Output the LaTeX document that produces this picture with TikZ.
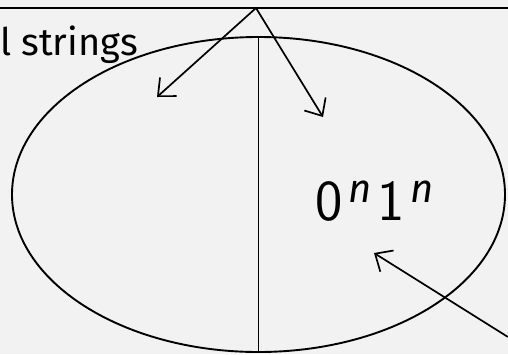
\documentclass[tikz,border=0pt]{standalone}
\usepackage{fontspec}
\setmainfont{Fira Sans}
\usetikzlibrary{positioning, shapes.geometric, arrows.meta}

\newcommand{\digitfont}{\sffamily\fontsize{58}{60}\selectfont}
\newcommand{\supn}{\hspace{6pt}\raisebox{18pt}{\fontsize{40}{40}\selectfont\itshape n}\hspace{6pt}}

\begin{document}
\begin{tikzpicture}[x=1pt, y=-1pt,
  set/.style={
    ellipse, draw=black, line width=1.9pt,
    minimum width=493pt, minimum height=315pt, inner sep=0pt
  },
  arrow/.style={
    -{Straight Barb[length=14pt,width=25pt]}, line width=1.7pt, draw=black
  },
  label/.style={
    inner sep=0pt, font=\fontsize{38}{46}\selectfont
  }
]

% Canvas
\fill[black!5] (0,0) rectangle (508,354);
\useasboundingbox (0,0) rectangle (508,354);

% Top rule
\coordinate (ruleL) at (0,8);
\coordinate (ruleR) at (508,8);
\coordinate (apex) at (256,8);
\draw[line width=1.8pt] (ruleL) -- (ruleR);

% The set and its split
\node[set] (lang) at (258.5,194.5) {};
\draw[line width=1pt] (lang.north) -- (lang.south);

% Labels
\node[label, anchor=base west] (all) at (0,55) {l strings};
\node[label, anchor=base west] (anbn) at (315,220) {{\digitfont 0}\supn{\digitfont 1}\supn};

% Arrows
\coordinate (leftpart) at (157,97);
\coordinate (rightpart) at (323,117);
\coordinate (outside) at (508,337);
\coordinate (inside) at (374,253);

\draw[arrow] (apex) -- (leftpart);
\draw[arrow] (apex) -- (rightpart);
\draw[arrow] (outside) -- (inside);

\end{tikzpicture}
\end{document}
